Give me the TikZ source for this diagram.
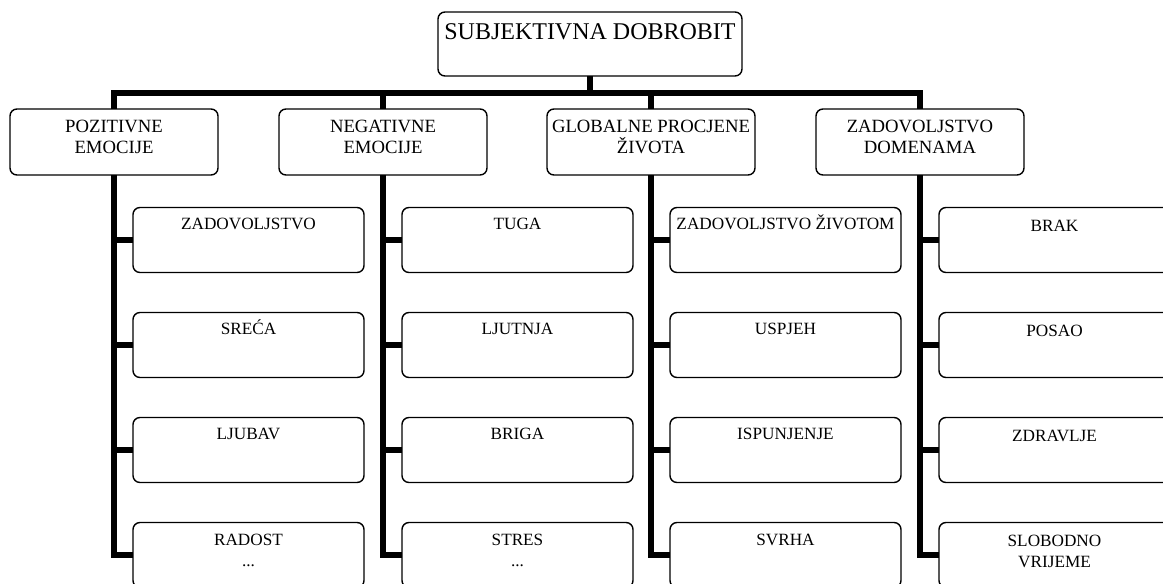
\documentclass[tikz,border=0pt]{standalone}
\usepackage{fontspec}
\setmainfont{Liberation Serif}
\newcommand{\bxt}[5]{\parbox[c][#2pt][t]{#1pt}{\centering\fontsize{#3}{21}\selectfont\rule{0pt}{#4pt}#5}}
\tikzset{
  box/.style={draw, line width=1.4pt, rounded corners=7pt, inner sep=0pt, outer sep=0pt},
  conn/.style={line width=5.5pt, line join=miter, line cap=butt}
}
\begin{document}
\begin{tikzpicture}[x=1pt,y=-1pt]
\useasboundingbox (0,0) rectangle (1163,584);
% top
\node[box] (top) at (590,44) {\bxt{304}{64}{24}{27}{SUBJEKTIVNA DOBROBIT}};
% level 1
\node[box] (pos) at (114,142) {\bxt{208}{66}{18.7}{23}{POZITIVNE\\EMOCIJE}};
\node[box] (neg) at (383,142) {\bxt{208}{66}{18.7}{23}{NEGATIVNE\\EMOCIJE}};
\node[box] (glo) at (651,142) {\bxt{208}{66}{18.7}{23}{GLOBALNE PROCJENE\\ŽIVOTA}};
\node[box] (zad) at (920,142) {\bxt{208}{66}{18.7}{23}{ZADOVOLJSTVO\\DOMENAMA}};
% children
\node[box] (p1) at (248.5,240) {\bxt{231}{65}{17.2}{22}{ZADOVOLJSTVO}};
\node[box] (p2) at (248.5,345) {\bxt{231}{65}{17.2}{22}{SREĆA}};
\node[box] (p3) at (248.5,450) {\bxt{231}{65}{17.2}{22}{LJUBAV}};
\node[box] (p4) at (248.5,555) {\bxt{231}{65}{17.2}{23}{RADOST\\...}};
\node[box] (n1) at (517.5,240) {\bxt{231}{65}{17.2}{22}{TUGA}};
\node[box] (n2) at (517.5,345) {\bxt{231}{65}{17.2}{22}{LJUTNJA}};
\node[box] (n3) at (517.5,450) {\bxt{231}{65}{17.2}{22}{BRIGA}};
\node[box] (n4) at (517.5,555) {\bxt{231}{65}{17.2}{23}{STRES\\...}};
\node[box] (g1) at (785.5,240) {\bxt{231}{65}{17.2}{22}{ZADOVOLJSTVO ŽIVOTOM}};
\node[box] (g2) at (785.5,345) {\bxt{231}{65}{17.2}{22}{USPJEH}};
\node[box] (g3) at (785.5,450) {\bxt{231}{65}{17.2}{22}{ISPUNJENJE}};
\node[box] (g4) at (785.5,555) {\bxt{231}{65}{17.2}{23}{SVRHA}};
\node[box] (z1) at (1054.5,240) {\bxt{231}{65}{17.2}{24}{BRAK}};
\node[box] (z2) at (1054.5,345) {\bxt{231}{65}{17.2}{24}{POSAO}};
\node[box] (z3) at (1054.5,450) {\bxt{231}{65}{17.2}{24}{ZDRAVLJE}};
\node[box] (z4) at (1054.5,555) {\bxt{231}{65}{17.2}{24}{SLOBODNO\\VRIJEME}};
% connectors
\coordinate (bar) at (0,93);
\draw[conn] (top.south) -- (top.south |- bar);
\draw[conn] (pos.north) -- (pos.north |- bar) -- (zad.north |- bar) -- (zad.north);
\draw[conn] (neg.north |- bar) -- (neg.north);
\draw[conn] (glo.north |- bar) -- (glo.north);
\foreach \a/\c in {pos/p,neg/n,glo/g,zad/z}{
  \draw[conn] (\a.south) -- (\a.south |- \c4.west) -- (\c4.west);
  \foreach \i in {1,2,3}{
    \draw[conn] (\a.south |- \c\i.west) -- (\c\i.west);
  }
}
\end{tikzpicture}
\end{document}
